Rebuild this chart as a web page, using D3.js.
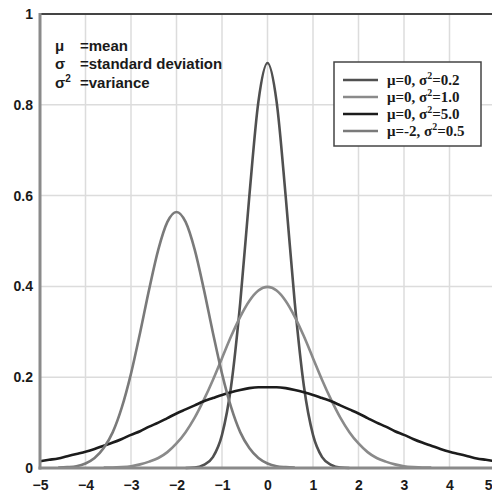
<!DOCTYPE html>
<html><head><meta charset="utf-8">
<script src="https://cdn.jsdelivr.net/npm/d3@7/dist/d3.min.js"></script>
<style>body{margin:0;background:#fff}svg{display:block}</style>
</head><body>
<script>
const xValues = [-5,-4.8,-4.6,-4.4,-4.2,-4,-3.8,-3.6,-3.4,-3.2,-3,-2.8,-2.6,-2.4,-2.2,-2,-1.8,-1.6,-1.4,-1.2,-1,-0.8,-0.6,-0.4,-0.2,0,0.2,0.4,0.6,0.8,1,1.2,1.4,1.6,1.8,2,2.2,2.4,2.6,2.8,3,3.2,3.4,3.6,3.8,4,4.2,4.4,4.6,4.8,5];
const N = null;
const seriesA = [N,N,N,N,N,N,N,N,N,N,N,N,N,N,N,N,0.000,0.001,0.007,0.024,0.073,0.180,0.363,0.598,0.807,0.892,0.807,0.598,0.363,0.180,0.073,0.024,0.007,0.001,0.000,N,N,N,N,N,N,N,N,N,N,N,N,N,N,N,N];
const seriesB = [N,N,N,N,N,N,N,0.001,0.001,0.002,0.004,0.008,0.014,0.022,0.035,0.054,0.079,0.111,0.150,0.194,0.242,0.290,0.333,0.368,0.391,0.399,0.391,0.368,0.333,0.290,0.242,0.194,0.150,0.111,0.079,0.054,0.035,0.022,0.014,0.008,0.004,0.002,0.001,0.001,N,N,N,N,N,N,N];
const seriesC = [0.015,0.018,0.021,0.026,0.031,0.036,0.042,0.049,0.056,0.064,0.073,0.081,0.091,0.100,0.110,0.120,0.129,0.138,0.147,0.154,0.161,0.167,0.172,0.176,0.178,0.178,0.178,0.176,0.172,0.167,0.161,0.154,0.147,0.138,0.129,0.120,0.110,0.100,0.091,0.081,0.073,0.064,0.056,0.049,0.042,0.036,0.031,0.026,0.021,0.018,0.015];
const seriesD = [N,N,0.001,0.002,0.004,0.010,0.022,0.044,0.079,0.134,0.208,0.298,0.394,0.481,0.542,0.564,0.542,0.481,0.394,0.298,0.208,0.134,0.079,0.044,0.022,0.010,0.004,0.002,0.001,N,N,N,N,N,N,N,N,N,N,N,N,N,N,N,N,N,N,N,N,N,N];
const seriesNames = ["A","B","C","D"];
const legendMu = ["0","0","0","-2"];
const legendVar = ["0.2","1.0","5.0","0.5"];
const seriesColors = ["#505050","#8a8a8a","#1c1c1c","#7a7a7a"];
const xTicks = [-5,-4,-3,-2,-1,0,1,2,3,4,5];
const yTicks = [0,0.2,0.4,0.6,0.8,1];
const yTickLabels = ["0","0.2","0.4","0.6","0.8","1"];
const notes = [["μ","=mean",false],["σ","=standard deviation",false],["σ","=variance",true]];

const W = 492, H = 496;
const svg = d3.select("body").append("svg").attr("width", W).attr("height", H);
const x = d3.scaleLinear().domain([-5,5]).range([40,495]);
const y = d3.scaleLinear().domain([0,1]).range([468,14]);
const sans = "Liberation Sans, Arial, sans-serif";

// grid
const g = svg.append("g");
g.selectAll(".vg").data(xTicks.slice(1)).enter().append("line")
  .attr("x1", d=>x(d)).attr("x2", d=>x(d)).attr("y1", y(1)).attr("y2", y(0))
  .attr("stroke", "#dcdcdc").attr("stroke-width", 1.5);
g.selectAll(".hg").data(yTicks.slice(1,-1)).enter().append("line")
  .attr("x1", x(-5)).attr("x2", x(5)).attr("y1", d=>y(d)).attr("y2", d=>y(d))
  .attr("stroke", "#dcdcdc").attr("stroke-width", 1.5);

// notes
const nt = svg.append("g").attr("font-family",sans).attr("font-weight","bold").attr("font-size",15).attr("fill","#1a1a1a");
notes.forEach((n,i)=>{
  const t = nt.append("text").attr("x",55).attr("y",50.5+i*18.5);
  t.append("tspan").text(n[0]);
  if(n[2]) t.append("tspan").attr("dy",-6).attr("font-size",10).text("2");
  nt.append("text").attr("x",80).attr("y",50.5+i*18.5).text(n[1]);
});

// curves
const series = [seriesA, seriesB, seriesC, seriesD];
const line = d3.line().defined(d=>d[1]!==null).x(d=>x(d[0])).y(d=>y(d[1])).curve(d3.curveMonotoneX);
series.forEach((s,i)=>{
  svg.append("path").datum(xValues.map((xv,j)=>[xv,s[j]]))
    .attr("d", line).attr("fill","none").attr("stroke",seriesColors[i]).attr("stroke-width",2.6);
});

// axes frame
svg.append("line").attr("x1",x(-5)).attr("x2",x(5)).attr("y1",y(1)).attr("y2",y(1)).attr("stroke","#444").attr("stroke-width",2);
svg.append("line").attr("x1",x(-5)).attr("x2",x(-5)).attr("y1",y(1)-1).attr("y2",y(0)+1.5).attr("stroke","#8a8a8a").attr("stroke-width",3);
svg.append("line").attr("x1",x(-5)-1.5).attr("x2",x(5)).attr("y1",y(0)).attr("y2",y(0)).attr("stroke","#8a8a8a").attr("stroke-width",3);

// axis labels via d3 axes
const xAxis = d3.axisBottom(x).tickValues(xTicks).tickSize(0).tickPadding(12).tickFormat(d3.format("d"));
const xa = svg.append("g").attr("transform",`translate(0,${y(0)})`).call(xAxis);
xa.select(".domain").remove();
xa.selectAll("text").attr("font-family",sans).attr("font-weight","bold").attr("font-size",14).attr("fill","#1a1a1a");
xa.selectAll(".tick").filter(d=>d===5).select("text").attr("text-anchor","end").attr("x",-3);
const yAxis = d3.axisLeft(y).tickValues(yTicks).tickSize(0).tickPadding(7).tickFormat((d,i)=>yTickLabels[i]);
const ya = svg.append("g").attr("transform",`translate(${x(-5)},0)`).call(yAxis);
ya.select(".domain").remove();
ya.selectAll("text").attr("font-family",sans).attr("font-weight","bold").attr("font-size",14).attr("fill","#1a1a1a");

// legend
const lg = svg.append("g");
lg.append("rect").attr("x",334).attr("y",62).attr("width",147).attr("height",84).attr("fill","#fff").attr("stroke","#444").attr("stroke-width",1.5);
seriesNames.forEach((n,i)=>{
  const yy = 80 + i*17;
  lg.append("line").attr("x1",343).attr("x2",378).attr("y1",yy).attr("y2",yy).attr("stroke",seriesColors[i]).attr("stroke-width",2.6);
  const t = lg.append("text").attr("x",387).attr("y",yy+5).attr("font-family","Liberation Serif, Times New Roman, serif").attr("font-weight","bold").attr("font-size",15).attr("fill","#1a1a1a");
  t.append("tspan").text(`μ=${legendMu[i]}, σ`);
  t.append("tspan").attr("dy",-6).attr("font-size",10).text("2");
  t.append("tspan").attr("dy",6).text(`=${legendVar[i]}`);
});
</script>
</body></html>
